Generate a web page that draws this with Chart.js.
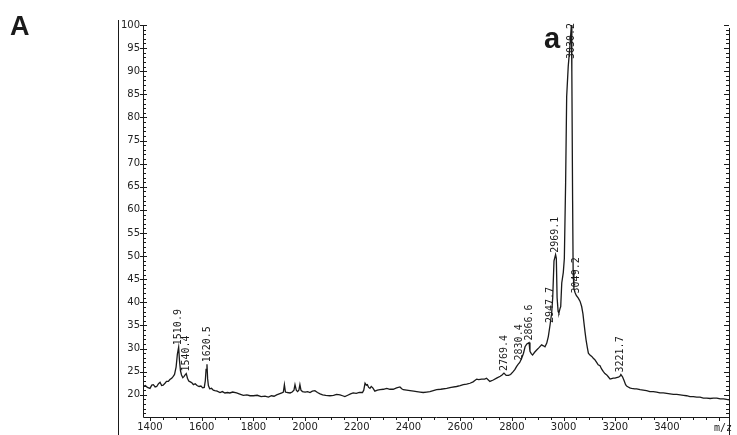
<!DOCTYPE html>
<html>
<head>
<meta charset="utf-8">
<script src="https://cdn.jsdelivr.net/npm/chart.js@4/dist/chart.umd.min.js"></script>
<style>
  html, body { margin: 0; padding: 0; background: #fff; }
  #wrap { width: 737px; height: 435px; }
</style>
</head>
<body>
<div id="wrap"><canvas id="spec" width="737" height="435"></canvas></div>
<script>
// MALDI spectrum, panel A: m/z vs relative intensity (%)
const mz = [
  1373, 1382, 1390, 1400, 1407, 1413, 1420, 1426, 1433, 1439, 1445, 1451, 1458, 1464, 1471, 1477,
  1484, 1490, 1495, 1501, 1506, 1510.9, 1514, 1518, 1522, 1527, 1532, 1536, 1540.4, 1545, 1550, 1556,
  1562, 1568, 1575, 1582, 1590, 1597, 1604, 1610, 1614, 1617, 1620.5, 1623, 1626, 1631, 1638, 1645,
  1651, 1660, 1671, 1680, 1690, 1700, 1709, 1720, 1735, 1745, 1761, 1775, 1787, 1800, 1815, 1830,
  1845, 1858, 1870, 1880, 1890, 1900, 1910, 1916, 1920, 1924, 1932, 1942, 1950, 1957, 1961, 1966,
  1971, 1976, 1980, 1984, 1990, 2000, 2010, 2019, 2028, 2038, 2048, 2058, 2068, 2080, 2096, 2110,
  2122, 2135, 2145, 2154, 2165, 2176, 2186, 2198, 2210, 2222, 2227, 2232, 2237, 2241, 2246, 2251,
  2256, 2262, 2270, 2280, 2290, 2303, 2316, 2328, 2341, 2354, 2367, 2374, 2380, 2393, 2406, 2420,
  2432, 2445, 2457, 2470, 2483, 2496, 2509, 2525, 2548, 2565, 2586, 2600, 2612, 2625, 2638, 2650,
  2664, 2672, 2683, 2695, 2702, 2715, 2728, 2741, 2755, 2762, 2769.4, 2778, 2787, 2795, 2805, 2812,
  2818, 2824, 2830.4, 2838, 2845, 2851, 2858, 2866.6, 2870, 2875, 2880, 2888, 2896, 2905, 2915, 2922,
  2928, 2935, 2941, 2947.7, 2954, 2958, 2963, 2969.1, 2972, 2975, 2979, 2982, 2986, 2989, 2993, 2999,
  3003, 3008, 3012, 3018, 3024, 3030.2, 3032, 3035, 3037, 3040, 3044, 3049.2, 3057, 3064, 3070,
  3075, 3079, 3083, 3087, 3092, 3096, 3102, 3109, 3115, 3121, 3128, 3134, 3141, 3147, 3154, 3160,
  3167, 3173, 3180, 3186, 3192, 3199, 3205, 3212, 3218, 3221.7, 3228, 3234, 3240, 3244, 3250, 3256,
  3263, 3275, 3283, 3296, 3308, 3321, 3334, 3347, 3360, 3373, 3386, 3399, 3412, 3425, 3438, 3451,
  3464, 3476, 3489, 3502, 3515, 3528, 3541, 3554, 3567, 3580, 3593, 3606, 3619, 3630, 3640
];
const intensity = [
  21.8, 22.0, 21.6, 21.4, 22.1, 22.2, 21.7, 21.8, 22.4, 22.7, 22.0, 22.1, 22.5, 22.9, 22.9, 23.3,
  23.6, 24.0, 24.4, 26.0, 28.8, 30.3, 27.5, 25.2, 24.3, 23.7, 24.0, 24.3, 24.6, 23.6, 23.0, 22.8,
  22.6, 22.2, 22.4, 22.0, 21.8, 21.9, 21.5, 21.6, 23.0, 25.5, 26.6, 23.5, 22.0, 21.3, 21.4, 21.0,
  20.9, 20.8, 20.5, 20.7, 20.4, 20.5, 20.4, 20.6, 20.4, 20.2, 19.9, 20.0, 19.8, 19.8, 19.9, 19.6,
  19.7, 19.5, 19.8, 19.7, 20.0, 20.2, 20.4, 20.6, 22.2, 20.6, 20.5, 20.4, 20.6, 21.0, 22.2, 21.0,
  20.7, 21.0, 22.2, 21.0, 20.7, 20.6, 20.7, 20.5, 20.8, 20.9, 20.5, 20.2, 20.0, 19.9, 19.8, 19.9,
  20.1, 20.0, 19.8, 19.6, 19.9, 20.2, 20.4, 20.3, 20.5, 20.5, 21.0, 22.5, 22.1, 22.2, 21.6, 21.4,
  21.8, 21.5, 20.8, 21.0, 21.1, 21.2, 21.4, 21.2, 21.2, 21.5, 21.7, 21.3, 21.1, 21.0, 20.9, 20.8,
  20.7, 20.6, 20.5, 20.6, 20.7, 20.9, 21.1, 21.2, 21.4, 21.6, 21.8, 22.0, 22.2, 22.3, 22.5, 22.8,
  23.4, 23.3, 23.4, 23.4, 23.6, 22.9, 23.2, 23.6, 24.0, 24.3, 24.7, 24.2, 24.2, 24.4, 25.0, 25.5,
  26.1, 26.6, 27.0, 27.9, 29.0, 30.4, 31.0, 31.3, 29.4, 28.9, 28.6, 29.2, 29.7, 30.2, 30.8, 30.6,
  30.4, 31.2, 32.6, 35.1, 37.7, 41.0, 49.0, 50.3, 49.5, 41.0, 38.0, 37.7, 38.6, 39.1, 44.2, 46.5,
  49.5, 66.0, 84.5, 91.0, 95.0, 100.0, 90.0, 62.0, 47.0, 43.0, 42.2, 41.5, 40.9, 40.2, 39.1,
  37.5, 35.5, 33.6, 31.9, 30.2, 29.0, 28.6, 28.3, 27.9, 27.6, 27.0, 26.5, 26.3, 25.6, 25.0, 24.6,
  24.3, 23.9, 23.4, 23.5, 23.6, 23.6, 23.7, 23.8, 24.0, 24.4, 23.9, 23.1, 22.2, 21.9, 21.7, 21.5,
  21.4, 21.3, 21.3, 21.1, 21.0, 20.9, 20.7, 20.7, 20.6, 20.4, 20.4, 20.3, 20.2, 20.1, 20.1, 20.0,
  19.9, 19.8, 19.6, 19.6, 19.5, 19.5, 19.3, 19.3, 19.2, 19.3, 19.3, 19.1, 19.1, 19.0, 18.9
];

// annotated peaks (m/z text written above each peak)
const peakLabels = ['1510.9', '1540.4', '1620.5', '2769.4', '2830.4', '2866.6',
                    '2947.7', '2969.1', '3030.2', '3049.2', '3221.7'];

// axis ticks
const xTicks = [1400, 1600, 1800, 2000, 2200, 2400, 2600, 2800, 3000, 3200, 3400];
const yTicks = [20, 25, 30, 35, 40, 45, 50, 55, 60, 65, 70, 75, 80, 85, 90, 95, 100];

const INK = '#1a1a1a';

const decor = {
  id: 'decor',
  afterDraw(chart) {
    const { ctx, chartArea: a, scales: { x, y } } = chart;
    ctx.save();
    ctx.strokeStyle = INK;
    ctx.lineWidth = 1;

    // outer frame line on the left and the plot axes
    ctx.beginPath();
    ctx.moveTo(118.5, 20); ctx.lineTo(118.5, 435);
    ctx.moveTo(a.left + 0.5, a.top); ctx.lineTo(a.left + 0.5, a.bottom + 0.5);
    ctx.lineTo(a.right + 0.5, a.bottom + 0.5);
    ctx.moveTo(a.right + 0.5, a.top + 3); ctx.lineTo(a.right + 0.5, 435);
    ctx.stroke();

    // y ticks: major every 5, minor every 1, on both vertical axes
    ctx.beginPath();
    for (let v = 16; v <= 100; v++) {
      const py = Math.round(y.getPixelForValue(v)) + 0.5;
      const major = v % 5 === 0;
      ctx.moveTo(a.left - (major ? 3 : 0), py); ctx.lineTo(a.left + (major ? 4 : 3), py);
      ctx.moveTo(a.right - (major ? 5 : 3), py); ctx.lineTo(a.right, py);
    }
    // x ticks: major every 200, minor every 50
    for (let v = 1400; v <= 3600; v += 50) {
      const px = Math.round(x.getPixelForValue(v)) + 0.5;
      const major = v % 200 === 0;
      ctx.moveTo(px, a.bottom); ctx.lineTo(px, a.bottom + (major ? 4 : 3));
    }
    ctx.stroke();

    // rotated peak annotations
    ctx.fillStyle = INK;
    ctx.font = '10px "DejaVu Sans Mono", monospace';
    ctx.textAlign = 'left';
    ctx.textBaseline = 'middle';
    peakLabels.forEach(lbl => {
      const v = parseFloat(lbl);
      const i = mz.indexOf(v);
      if (i < 0) return;
      const px = x.getPixelForValue(v);
      let start = y.getPixelForValue(intensity[i]) - 2;
      const w = ctx.measureText(lbl).width;
      if (start - w < a.top - 2) start = a.top - 2 + w;
      ctx.save();
      ctx.translate(px, start);
      ctx.rotate(-Math.PI / 2);
      ctx.fillText(lbl, 0, 0);
      ctx.restore();
    });

    // axis unit at the right end of the m/z axis
    ctx.textAlign = 'right';
    ctx.fillText('m/z', a.right + 3, a.bottom + 11);

    // panel letter and peak tag
    ctx.textAlign = 'left';
    ctx.textBaseline = 'alphabetic';
    ctx.font = 'bold 27px "Liberation Sans", Arial, sans-serif';
    ctx.fillText('A', 10, 35);
    ctx.font = 'bold 29px "Liberation Sans", Arial, sans-serif';
    ctx.fillText('a', 544, 48);
    ctx.restore();
  }
};

new Chart(document.getElementById('spec'), {
  type: 'line',
  data: {
    datasets: [{
      data: mz.map((m, i) => ({ x: m, y: intensity[i] })),
      borderColor: INK,
      borderWidth: 1.3,
      pointRadius: 0,
      tension: 0,
      fill: false
    }]
  },
  options: {
    responsive: false,
    animation: false,
    devicePixelRatio: 1,
    layout: { padding: { left: 0, right: 8, top: 25, bottom: 0 } },
    plugins: { legend: { display: false }, tooltip: { enabled: false } },
    scales: {
      x: {
        type: 'linear',
        min: 1373,
        max: 3640,
        afterBuildTicks: s => { s.ticks = xTicks.map(v => ({ value: v })); },
        afterFit: s => { s.height = 18; },
        grid: { display: false, drawTicks: false, tickLength: 0 },
        border: { display: false },
        ticks: {
          color: '#222',
          font: { family: 'DejaVu Sans', size: 10 },
          padding: 4,
          maxRotation: 0,
          autoSkip: false,
          callback: v => String(v)
        }
      },
      y: {
        type: 'linear',
        min: 15.2,
        max: 100,
        afterBuildTicks: s => { s.ticks = yTicks.map(v => ({ value: v })); },
        afterFit: s => { s.width = 143; },
        grid: { display: false, drawTicks: false, tickLength: 0 },
        border: { display: false },
        ticks: {
          color: '#222',
          font: { family: 'DejaVu Sans', size: 10 },
          padding: 3,
          autoSkip: false,
          callback: v => String(v)
        }
      }
    }
  },
  plugins: [decor]
});
</script>
</body>
</html>
